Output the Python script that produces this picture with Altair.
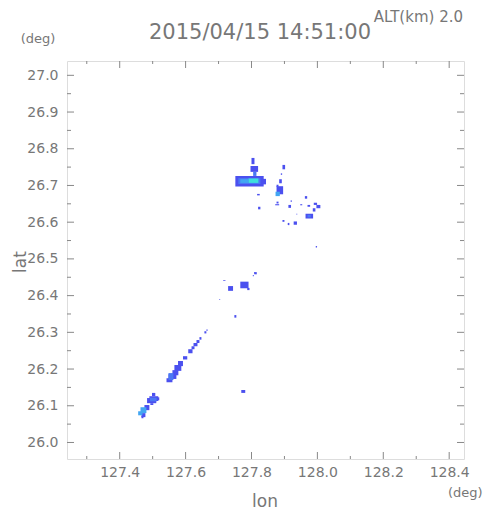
import altair as alt
import pandas as pd

# ---- echo patches (lon0, lon1, lat0, lat1, level) ----
lon0 = [127.751, 127.835, 127.800, 127.797, 127.894, 127.889, 127.884, 127.876, 127.876, 127.817,
        127.820, 127.876, 127.872, 127.919, 127.912, 127.948, 127.962, 127.970, 127.989, 127.997,
        127.986, 127.964, 127.936, 127.894, 127.910, 127.928, 127.995, 127.714, 127.729, 127.766,
        127.787, 127.808, 127.804, 127.702, 127.748, 127.657, 127.663,
        127.642, 127.633, 127.624, 127.618, 127.608,
        127.592, 127.577, 127.566, 127.560, 127.548, 127.542,
        127.498, 127.490, 127.483, 127.493, 127.508,
        127.475, 127.466, 127.466, 127.769,
        127.760, 127.805, 127.970, 127.548, 127.492,
        127.766, 127.873, 127.463, 127.456,
        127.791]
lon1 = [127.837, 127.844, 127.809, 127.820, 127.902, 127.893, 127.892, 127.896, 127.882, 127.825,
        127.827, 127.882, 127.884, 127.922, 127.920, 127.954, 127.969, 127.978, 127.999, 128.009,
        127.994, 127.987, 127.939, 127.900, 127.915, 127.938, 127.999, 127.721, 127.744, 127.791,
        127.794, 127.816, 127.807, 127.705, 127.754, 127.663, 127.667,
        127.648, 127.642, 127.636, 127.627, 127.621,
        127.605, 127.592, 127.587, 127.578, 127.572, 127.560,
        127.508, 127.517, 127.511, 127.502, 127.520,
        127.490, 127.478, 127.472, 127.781,
        127.827, 127.815, 127.980, 127.563, 127.512,
        127.790, 127.886, 127.481, 127.469,
        127.821]
lat0 = [26.697, 26.703, 26.758, 26.737, 26.744, 26.729, 26.706, 26.676, 26.696, 26.673,
        26.635, 26.651, 26.646, 26.655, 26.639, 26.646, 26.664, 26.642, 26.647, 26.638,
        26.629, 26.610, 26.621, 26.601, 26.592, 26.593, 26.531, 26.440, 26.413, 26.420,
        26.415, 26.458, 26.453, 26.389, 26.340, 26.297, 26.304,
        26.280, 26.271, 26.262, 26.254, 26.243,
        26.226, 26.208, 26.195, 26.183, 26.173, 26.164,
        26.126, 26.113, 26.107, 26.102, 26.115,
        26.088, 26.069, 26.066, 26.135,
        26.704, 26.726, 26.613, 26.170, 26.112,
        26.707, 26.671, 26.080, 26.074,
        26.707]
lat1 = [26.726, 26.718, 26.775, 26.753, 26.756, 26.733, 26.717, 26.698, 26.702, 26.677,
        26.642, 26.656, 26.649, 26.660, 26.647, 26.649, 26.671, 26.647, 26.653, 26.647,
        26.638, 26.623, 26.623, 26.606, 26.598, 26.602, 26.535, 26.442, 26.426, 26.438,
        26.421, 26.464, 26.456, 26.391, 26.347, 26.303, 26.308,
        26.287, 26.279, 26.271, 26.262, 26.254,
        26.235, 26.222, 26.211, 26.197, 26.186, 26.175,
        26.135, 26.126, 26.121, 26.107, 26.123,
        26.102, 26.080, 26.072, 26.143,
        26.720, 26.737, 26.620, 26.189, 26.122,
        26.717, 26.683, 26.096, 26.085,
        26.719]
level = [1] * 57 + [2] * 5 + [3] * 4 + [4] * 1

level_colors = ["#4b50ef", "#4a78f4", "#42a6f2", "#3ee0dc"]

# ---- axis ticks ----
x_major = [127.4, 127.6, 127.8, 128.0, 128.2, 128.4]
x_minor = [127.3, 127.5, 127.7, 127.9, 128.1, 128.3]
y_major = [26.0, 26.1, 26.2, 26.3, 26.4, 26.5, 26.6, 26.7, 26.8, 26.9, 27.0]
y_minor = [26.05, 26.15, 26.25, 26.35, 26.45, 26.55, 26.65, 26.75, 26.85, 26.95]

title_text = "2015/04/15 14:51:00"
alt_text = "ALT(km) 2.0"

W, H = 397, 398
GRAY = "#888888"
TXT = "#777777"
FONT = "DejaVu Sans"

xs = alt.Scale(domain=[127.24, 128.445], nice=False, zero=False)
ys = alt.Scale(domain=[25.955, 27.039], nice=False, zero=False)

x_axis = alt.Axis(values=x_major, format=".1f", title=None, ticks=False, domain=False, grid=False,
                  labelColor=TXT, labelFontSize=14, labelFont=FONT, labelPadding=6)
y_axis = alt.Axis(values=y_major, format=".1f", title=None, ticks=False, domain=False, grid=False,
                  labelColor=TXT, labelFontSize=14, labelFont=FONT, labelPadding=9)

echo = pd.DataFrame({"lon0": lon0, "lon1": lon1, "lat0": lat0, "lat1": lat1, "level": level})

rects = alt.Chart(echo).mark_rect(strokeWidth=0).encode(
    x=alt.X("lon0:Q", scale=xs, axis=x_axis),
    x2="lon1:Q",
    y=alt.Y("lat0:Q", scale=ys, axis=y_axis),
    y2="lat1:Q",
    color=alt.Color("level:O", scale=alt.Scale(domain=[1, 2, 3, 4], range=level_colors), legend=None),
)

def xticks(vals, length):
    df = pd.DataFrame({"v": vals})
    bot = alt.Chart(df).mark_rule(color=GRAY, strokeWidth=1).encode(
        x=alt.X("v:Q", scale=xs, axis=x_axis), y=alt.value(H), y2=alt.value(H - length))
    top = alt.Chart(df).mark_rule(color=GRAY, strokeWidth=1).encode(
        x=alt.X("v:Q", scale=xs, axis=x_axis), y=alt.value(0), y2=alt.value(length))
    return [bot, top]

def yticks(vals, length):
    df = pd.DataFrame({"v": vals})
    left = alt.Chart(df).mark_rule(color=GRAY, strokeWidth=1).encode(
        y=alt.Y("v:Q", scale=ys, axis=y_axis), x=alt.value(0), x2=alt.value(length))
    right = alt.Chart(df).mark_rule(color=GRAY, strokeWidth=1).encode(
        y=alt.Y("v:Q", scale=ys, axis=y_axis), x=alt.value(W), x2=alt.value(W - length))
    return [left, right]

ticks = xticks(x_major, 7) + xticks(x_minor, 3) + yticks(y_major, 7) + yticks(y_minor, 4)

def label(text, x, y, size, align="center", angle=0):
    return alt.Chart(pd.DataFrame({"t": [text]})).mark_text(
        font=FONT, fontSize=size, color=TXT, align=align, baseline="middle", angle=angle
    ).encode(x=alt.value(x), y=alt.value(y), text="t:N")

texts = [
    label(title_text, 193, -28, 21),
    label(alt_text, 396, -44, 15, align="right"),
    label("(deg)", -29, -22, 13),
    label("(deg)", 381, 432, 13, align="left"),
    label("lon", 198, 441, 17),
    label("lat", -46, 201, 17, angle=270),
]

chart = alt.layer(rects, *ticks, *texts).properties(
    width=W, height=H,
    autosize=alt.AutoSizeParams(type="none"),
    padding={"left": 59, "top": 53, "right": 19, "bottom": 54},
).configure_view(stroke="#999999", strokeWidth=1.5).configure(background="white")

chart.save("out.html", embed_options={"renderer": "svg", "actions": False})
